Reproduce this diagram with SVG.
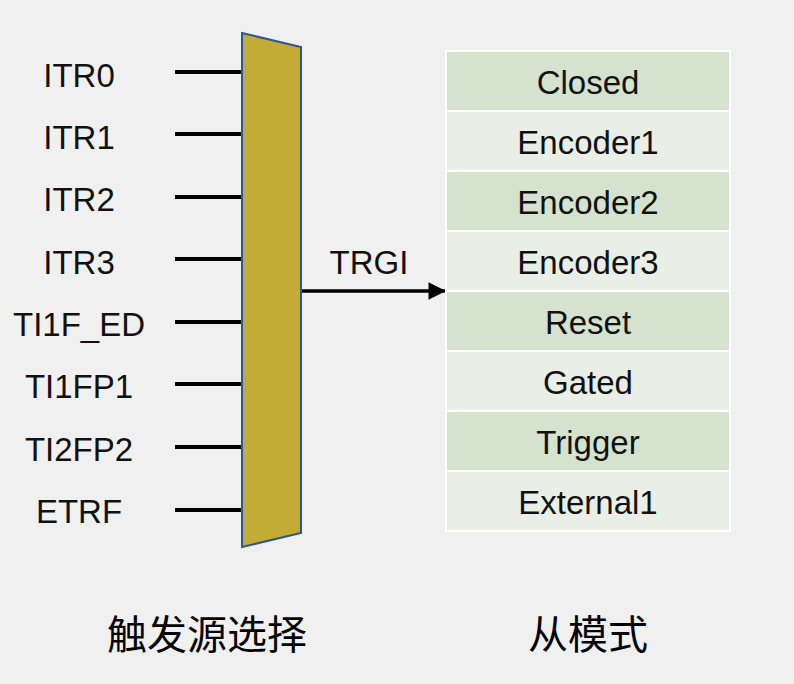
<svg xmlns="http://www.w3.org/2000/svg" width="794" height="684" viewBox="0 0 794 684">
<style>
.lbl{font-family:"Liberation Sans","Noto Sans",Arial,sans-serif;font-size:33px;fill:#111;text-anchor:middle}
.cj{font-family:"Noto Sans CJK SC",sans-serif;font-size:40px;fill:#000;text-anchor:middle}
.in{stroke:#000;stroke-width:4;fill:none}
.d{fill:#D5E3CE;stroke:#fff;stroke-width:2}
.l{fill:#E9EFE6;stroke:#fff;stroke-width:2}
</style>
<defs>
<marker id="ah" viewBox="0 0 10 10" refX="10" refY="5" markerWidth="5.5" markerHeight="5" orient="auto" markerUnits="strokeWidth">
<path d="M0,0 L10,5 L0,10 z" fill="#000"/>
</marker>
</defs>
<rect width="794" height="684" fill="#F0F0F0"/>
<g id="inputs">
<text class="lbl" x="79" y="87">ITR0</text>
<text class="lbl" x="79" y="149">ITR1</text>
<text class="lbl" x="79" y="211">ITR2</text>
<text class="lbl" x="79" y="274">ITR3</text>
<text class="lbl" x="79" y="336">TI1F_ED</text>
<text class="lbl" x="79" y="398">TI1FP1</text>
<text class="lbl" x="79" y="461">TI2FP2</text>
<text class="lbl" x="79" y="523">ETRF</text>
</g>
<g id="connectors">
<line class="in" x1="175" y1="72" x2="242" y2="72"/>
<line class="in" x1="175" y1="134" x2="242" y2="134"/>
<line class="in" x1="175" y1="197" x2="242" y2="197"/>
<line class="in" x1="175" y1="259" x2="242" y2="259"/>
<line class="in" x1="175" y1="322" x2="242" y2="322"/>
<line class="in" x1="175" y1="384" x2="242" y2="384"/>
<line class="in" x1="175" y1="447" x2="242" y2="447"/>
<line class="in" x1="175" y1="510" x2="242" y2="510"/>
<line x1="301" y1="291" x2="446" y2="291" stroke="#000" stroke-width="3.5" marker-end="url(#ah)"/>
</g>
<g id="mux">
<polygon points="242,33 301,47 301,533 242,547" fill="#C3AC35" stroke="#2F5597" stroke-width="2"/>
</g>
<text class="lbl" x="369" y="274">TRGI</text>
<g id="modes">
<rect class="d" x="446" y="51" width="284" height="60"/>
<rect class="l" x="446" y="111" width="284" height="60"/>
<rect class="d" x="446" y="171" width="284" height="60"/>
<rect class="l" x="446" y="231" width="284" height="60"/>
<rect class="d" x="446" y="291" width="284" height="60"/>
<rect class="l" x="446" y="351" width="284" height="60"/>
<rect class="d" x="446" y="411" width="284" height="60"/>
<rect class="l" x="446" y="471" width="284" height="60"/>
<text class="lbl" x="588" y="94">Closed</text>
<text class="lbl" x="588" y="154">Encoder1</text>
<text class="lbl" x="588" y="214">Encoder2</text>
<text class="lbl" x="588" y="274">Encoder3</text>
<text class="lbl" x="588" y="334">Reset</text>
<text class="lbl" x="588" y="394">Gated</text>
<text class="lbl" x="588" y="454">Trigger</text>
<text class="lbl" x="588" y="514">External1</text>
</g>
<text class="cj" x="207" y="649">触发源选择</text>
<text class="cj" x="588" y="649">从模式</text>
</svg>
